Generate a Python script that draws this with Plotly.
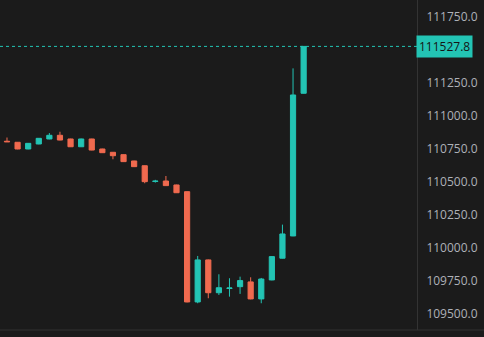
import plotly.graph_objects as go

idx = list(range(29))
opens  = [110808, 110800, 110749, 110787, 110825, 110853, 110825, 110766, 110825, 110749,
          110724, 110706, 110658, 110622, 110502, 110506, 110476, 110425, 109588, 109907,
          109658, 109690, 109704, 109740, 109611, 109755, 109920, 110089, 111172]
closes = [110804, 110749, 110792, 110830, 110853, 110817, 110766, 110825, 110741, 110721,
          110698, 110653, 110615, 110501, 110505, 110471, 110417, 109588, 109907, 109658,
          109696, 109694, 109750, 109611, 109762, 109932, 110104, 111159, 111527.8]
highs  = [110836, 110802, 110794, 110832, 110870, 110880, 110827, 110828, 110827, 110751,
          110726, 110708, 110660, 110624, 110515, 110544, 110478, 110427, 109937, 109910,
          109798, 109768, 109780, 109775, 109770, 109935, 110175, 111361, 111528]
lows   = [110803, 110747, 110747, 110785, 110823, 110815, 110764, 110764, 110739, 110719,
          110671, 110651, 110612, 110489, 110494, 110469, 110415, 109585, 109578, 109616,
          109641, 109628, 109649, 109608, 109578, 109752, 109918, 110087, 111170]
last_price = 111527.8
tick_vals = [109500, 109750, 110000, 110250, 110500, 110750, 111000, 111250, 111750]

UP = "#23c4b4"
DOWN = "#f06a4f"
BG = "#1b1b1b"

fig = go.Figure(go.Candlestick(
    x=idx, open=opens, high=highs, low=lows, close=closes,
    increasing=dict(line=dict(color=UP, width=1), fillcolor=UP),
    decreasing=dict(line=dict(color=DOWN, width=1), fillcolor=DOWN),
    whiskerwidth=0, showlegend=False, hoverinfo="skip",
))

fig.add_shape(type="line", xref="paper", yref="y", x0=0, x1=1, y0=last_price, y1=last_price,
              line=dict(color=UP, width=1, dash="dot"))
fig.add_shape(type="line", xref="paper", yref="paper", x0=0, x1=1.2, y0=0, y1=0,
              line=dict(color="#333333", width=1))

fig.add_annotation(xref="paper", yref="y", x=0.998, y=last_price, xanchor="left", yanchor="middle",
                   text="111527.8", showarrow=False, bgcolor=UP,
                   font=dict(family="Open Sans, sans-serif", size=12, color="#151515"),
                   borderpad=2)
fig.add_annotation(xref="paper", yref="paper", x=1.036, y=0, xanchor="center", yanchor="top",
                   text="15", showarrow=False, yshift=-3,
                   font=dict(family="Open Sans, sans-serif", size=12, color="#9a9a9a"))

fig.update_layout(
    width=484, height=337,
    margin=dict(l=0, r=67, t=0, b=7),
    paper_bgcolor=BG, plot_bgcolor=BG,
    xaxis=dict(range=[-0.66, 38.7], showgrid=False, zeroline=False, showticklabels=False,
               rangeslider=dict(visible=False), fixedrange=True),
    yaxis=dict(range=[109375, 111880], side="right", showgrid=False, zeroline=False,
               tickvals=tick_vals, ticktext=[f"{v:.1f}" for v in tick_vals],
               tickfont=dict(family="Open Sans, sans-serif", size=12, color="#aeb1b8"),
               showline=True, linecolor="#333333", linewidth=1, ticks="", ticklabelstandoff=6),
)

fig.write_html("out.html")
